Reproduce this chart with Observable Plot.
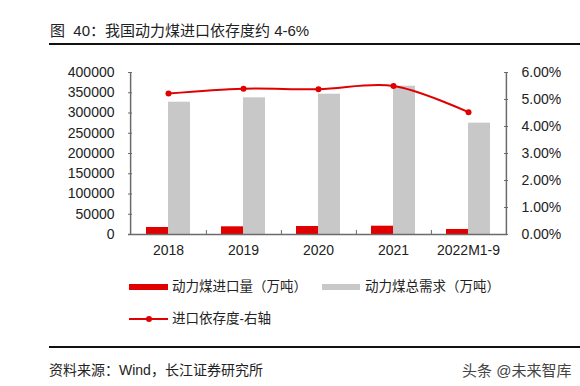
<!DOCTYPE html>
<html>
<head>
<meta charset="utf-8">
<script src="https://cdn.jsdelivr.net/npm/d3@7"></script>
<script src="https://cdn.jsdelivr.net/npm/@observablehq/plot@0.6"></script>
<style>
  html, body { margin: 0; padding: 0; background: #fff; }
  #page { position: relative; width: 580px; height: 386px; overflow: hidden;
          font-family: "Liberation Sans", Arial, "Noto Sans CJK SC", sans-serif; color: #222; }
  .abs { position: absolute; white-space: pre; }
  #title { left: 50px; top: 21px; font-size: 15px; line-height: 20px; }
  #rule1 { left: 49px; top: 43px; width: 531px; height: 2px; background: #111; }
  #chart { left: 0; top: 55px; }
  .leg { font-size: 13.5px; line-height: 16px; }
  .sw { position: absolute; }
  #rule2 { left: 49px; top: 346px; width: 531px; height: 2px; background: #111; }
  #foot { left: 49px; top: 361px; font-size: 14px; line-height: 18px; }
  #wm { left: 462px; top: 362px; font-size: 15px; line-height: 18px; color: #444; }
</style>
</head>
<body>
<div id="page">
  <div id="title" class="abs">图  40：我国动力煤进口依存度约 4-6%</div>
  <div id="rule1" class="abs"></div>
  <div id="chart" class="abs"></div>
  <div id="legend"></div>
  <div id="rule2" class="abs"></div>
  <div id="foot" class="abs">资料来源：Wind，长江证券研究所</div>
  <div id="wm" class="abs">头条 @未来智库</div>
</div>
<script>
const years = ["2018", "2019", "2020", "2021", "2022M1-9"];
const imports = [17300, 19000, 19700, 20500, 12400];        // 动力煤进口量（万吨）
const demand = [326700, 337500, 346400, 366200, 274900];   // 动力煤总需求（万吨）
const dependence = [5.22, 5.40, 5.38, 5.50, 4.53];         // 进口依存度 (%)
const leftTicks = [0, 50000, 100000, 150000, 200000, 250000, 300000, 350000, 400000];
const rightTicks = [0, 1, 2, 3, 4, 5, 6];
const seriesNames = ["动力煤进口量（万吨）", "动力煤总需求（万吨）", "进口依存度-右轴"];

const leftMax = 400000, rightMax = 6;
const rows = years.map((y, i) => ({year: y, imports: imports[i], demand: demand[i], dep: dependence[i]}));

const W = 580, H = 215, mL = 128, mR = 73, mT = 17, mB = 36;
const step = (W - mL - mR) / years.length;
const bw = step * 0.58;
const red = "#e00000", gray = "#c8c8c8", axisC = "#6b6b6b";

const chart = Plot.plot({
  width: W, height: H, marginLeft: mL, marginRight: mR, marginTop: mT, marginBottom: mB,
  style: {fontFamily: '"Liberation Sans", Arial, sans-serif', fontSize: "14px", color: "#222", background: "transparent", overflow: "visible"},
  x: {domain: years, paddingInner: 0.42, paddingOuter: 0.21, axis: null, label: null},
  y: {domain: [0, leftMax], axis: null, label: null},
  marks: [
    Plot.barY(rows, {x: "year", y: "demand", fill: gray, insetLeft: bw / 2}),
    Plot.barY(rows, {x: "year", y: "imports", fill: red, insetRight: bw / 2}),
    Plot.line(rows, {x: "year", y: d => d.dep / rightMax * leftMax, stroke: red, strokeWidth: 2, curve: "catmull-rom"}),
    Plot.dot(rows, {x: "year", y: d => d.dep / rightMax * leftMax, r: 3, fill: red, stroke: "none"}),
    Plot.ruleY([0], {stroke: axisC, strokeWidth: 1.5}),
    Plot.ruleX([years[0]], {dx: -step / 2, stroke: axisC, strokeWidth: 1.5}),
    Plot.ruleX([years[years.length - 1]], {dx: step / 2, stroke: axisC, strokeWidth: 1.5}),
    Plot.ruleX(years.slice(0, -1), {dx: step / 2, y1: 0, y2: 10000, stroke: axisC}),
    Plot.axisX({tickSize: 0, tickPadding: 11, fontSize: 14, label: null}),
    Plot.axisY(leftTicks, {anchor: "left", tickSize: -4, tickPadding: 18, stroke: axisC, tickFormat: d => String(d), fontSize: 14, label: null}),
    Plot.axisY(rightTicks.map(k => k / rightMax * leftMax), {anchor: "right", tickSize: -4, tickPadding: 18, stroke: axisC, tickFormat: d => (d / leftMax * rightMax).toFixed(2) + "%", fontSize: 14, label: null})
  ]
});
document.getElementById("chart").appendChild(chart);

// legend
const legend = document.getElementById("legend");
function add(html) { legend.insertAdjacentHTML("beforeend", html); }
add(`<div class="sw abs" style="left:129px;top:284px;width:39px;height:6px;background:${red}"></div>`);
add(`<div class="leg abs" style="left:172px;top:279px">${seriesNames[0]}</div>`);
add(`<div class="sw abs" style="left:322px;top:284px;width:38px;height:6px;background:${gray}"></div>`);
add(`<div class="leg abs" style="left:365px;top:279px">${seriesNames[1]}</div>`);
add(`<div class="sw abs" style="left:129px;top:318px;width:39px;height:2px;background:${red}"></div>`);
add(`<div class="sw abs" style="left:146px;top:316px;width:6px;height:6px;border-radius:3px;background:${red}"></div>`);
add(`<div class="leg abs" style="left:172px;top:311px">${seriesNames[2]}</div>`);
</script>
</body>
</html>
